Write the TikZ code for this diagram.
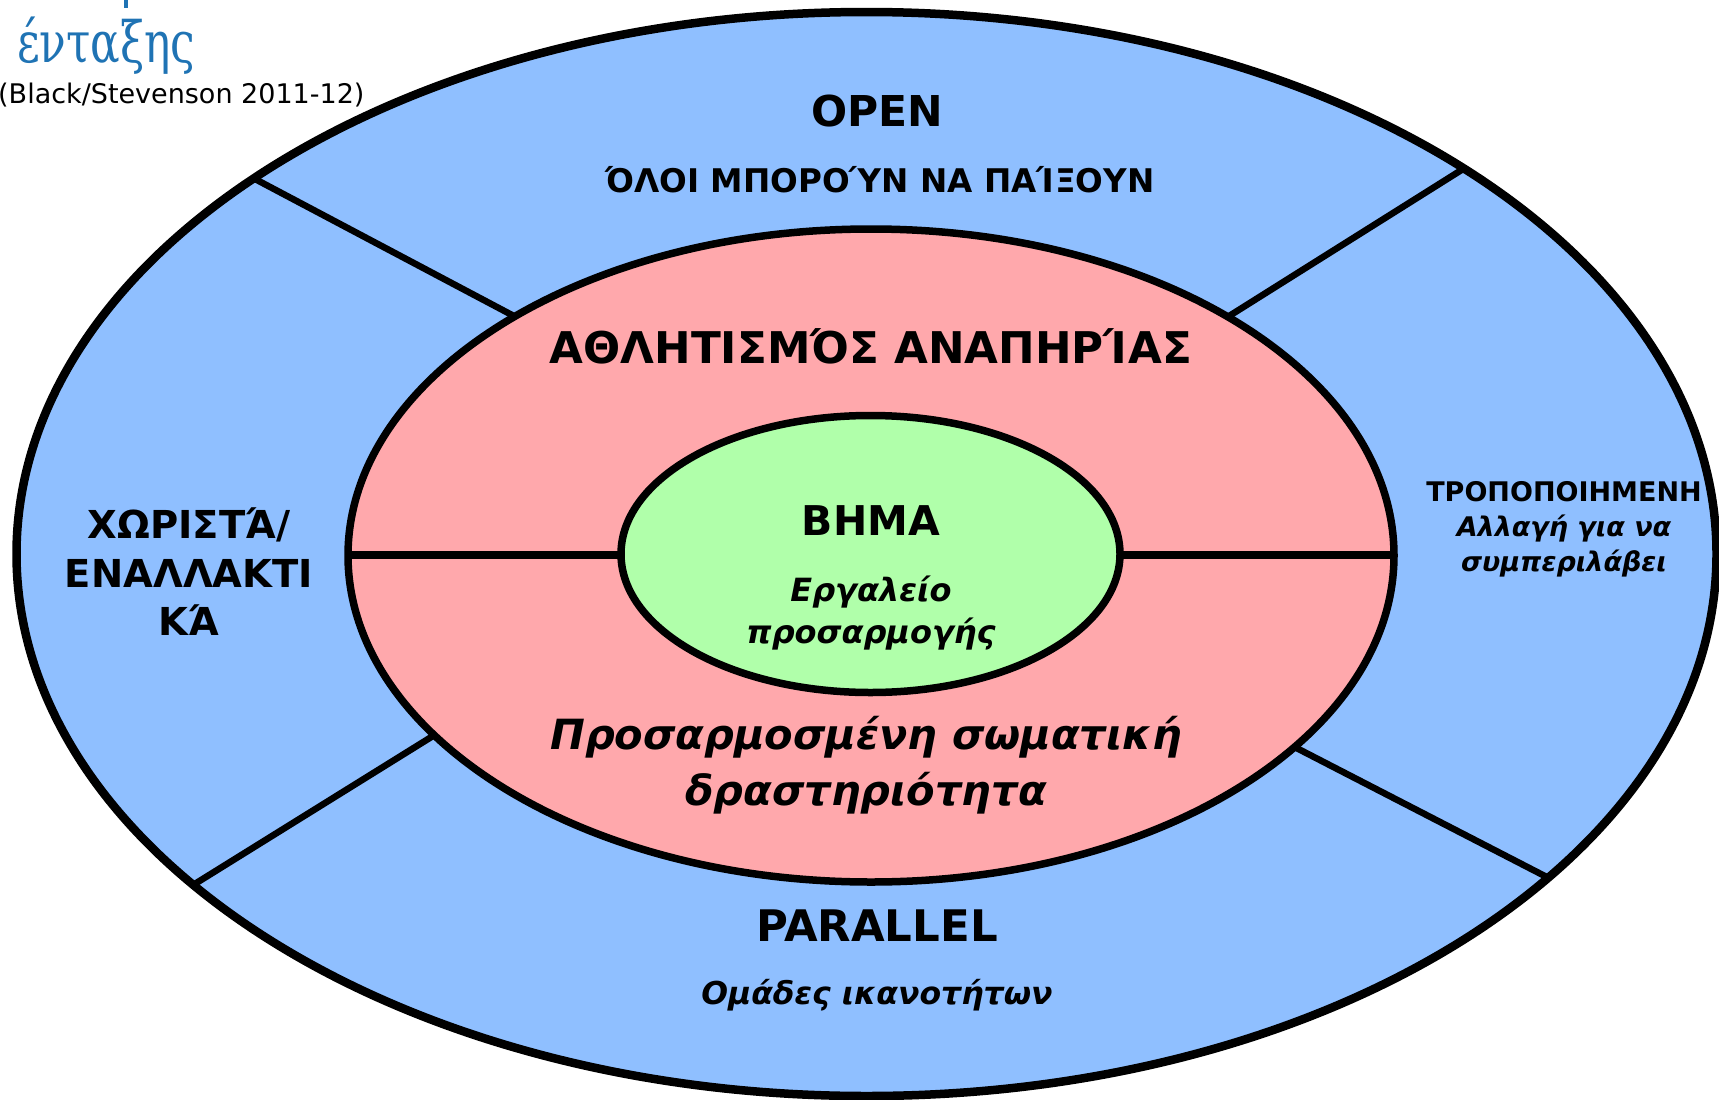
\documentclass[tikz,border=0pt]{standalone}
\usepackage{fontspec}
\setmainfont{DejaVu Sans}
\newfontfamily\titleserif{DejaVu Serif}
\definecolor{outerblue}{RGB}{143,191,255}
\definecolor{midpink}{RGB}{255,168,172}
\definecolor{innergreen}{RGB}{176,255,170}
\definecolor{titleblue}{RGB}{31,115,180}
\tikzset{
  ring/.style={draw=black, line width=7.5pt},
  divider/.style={draw=black, line width=6.5pt},
  bigcap/.style={font=\bfseries\fontsize{43}{48}\selectfont, align=center, inner sep=0pt},
  midcap/.style={font=\bfseries\fontsize{32.6}{36}\selectfont, align=center, inner sep=0pt},
  bigital/.style={font=\bfseries\itshape\fontsize{41.6}{56}\selectfont, align=center, inner sep=0pt},
  smallital/.style={font=\bfseries\itshape\fontsize{31.5}{42}\selectfont, align=center, inner sep=0pt},
}
\begin{document}
\begin{tikzpicture}[x=1pt,y=-1pt]
\useasboundingbox (0,0) rectangle (1719,1100);
% outer blue ellipse
\fill[outerblue] (866.5,554) ellipse [x radius=850, y radius=542];
% dividers in the outer ring
\begin{scope}
  \clip (866.5,554) ellipse [x radius=850, y radius=542];
  \draw[divider] (563,342) -- (204,152);
  \draw[divider] (1183,345) -- (1514,137);
  \draw[divider] (478,708) -- (148,913);
  \draw[divider] (1248,723) -- (1603,906);
\end{scope}
% pink ellipse
\filldraw[fill=midpink, ring] (871,555.5) ellipse [x radius=523, y radius=326.5];
\draw[black, line width=8.5pt] (348,555) -- (1394,555);
% green ellipse
\filldraw[fill=innergreen, ring] (870.5,554) ellipse [x radius=249.5, y radius=138.5];
% outer stroke
\draw[black, line width=8.5pt] (866.5,554) ellipse [x radius=850, y radius=542];

% texts
\node[bigcap, font=\bfseries\fontsize{42.5}{48}\selectfont] (open) at (877,111) {OPEN};
\node[midcap] (all) at (880,180) {ΌΛΟΙ ΜΠΟΡΟΎΝ ΝΑ ΠΑΊΞΟΥΝ};
\node[bigcap, font=\bfseries\fontsize{43.7}{48}\selectfont] (dsport) at (871,346) {ΑΘΛΗΤΙΣΜΌΣ ΑΝΑΠΗΡΊΑΣ};
\node[bigcap, font=\bfseries\fontsize{41}{48}\selectfont] (bhma) at (871,521) {ΒΗΜΑ};
\node[smallital, font=\bfseries\itshape\fontsize{32}{42}\selectfont] (tool) at (871,613) {Εργαλείο\\προσαρμογής};
\node[bigital] (apa) at (866,765) {Προσαρμοσμένη σωματική\\δραστηριότητα};
\node[bigcap, font=\bfseries\fontsize{43.5}{48}\selectfont] (parallel) at (877,926) {PARALLEL};
\node[smallital] (groups) at (877,995) {Ομάδες ικανοτήτων};
\node[bigcap, font=\bfseries\fontsize{38.5}{48.5}\selectfont] (sep) at (189,572) {ΧΩΡΙΣΤΆ/\\ΕΝΑΛΛΑΚΤΙ\\ΚΆ};
\node[inner sep=0pt, align=center, font=\bfseries\itshape\fontsize{27}{35}\selectfont] (mod) at (1564,529) {{\upshape ΤΡΟΠΟΠΟΙΗΜΕΝΗ}\\Αλλαγή για να\\συμπεριλάβει};

% heading fragment at top left
\draw[titleblue, line width=4pt] (125.5,0) -- (125.5,8);
\node[anchor=base west, inner sep=0pt, text=titleblue, font=\titleserif\fontsize{57}{60}\selectfont] (heading) at (17,62) {\scalebox{0.77}[1]{ένταξης}};
\node[anchor=base west, inner sep=0pt, font=\fontsize{27}{30}\selectfont] (cite) at (-2,103) {(Black/Stevenson 2011-12)};
\end{tikzpicture}
\end{document}
